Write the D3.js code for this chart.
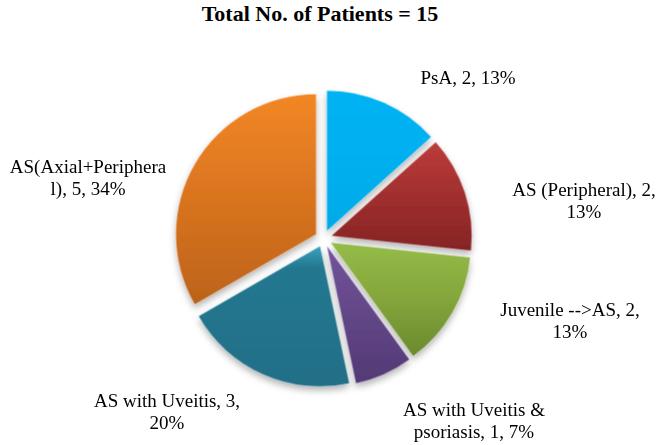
<!DOCTYPE html>
<html>
<head>
<meta charset="utf-8">
<script src="https://cdn.jsdelivr.net/npm/d3@7"></script>
<style>
  body { margin: 0; background: #fff; }
  svg { display: block; }
  text { font-family: "Liberation Serif", "Times New Roman", serif; fill: #000; }
</style>
</head>
<body>
<div id="chart"></div>
<script>
// Data
const categories = ['PsA', 'AS (Peripheral)', 'Juvenile -->AS', 'AS with Uveitis & psoriasis', 'AS with Uveitis', 'AS(Axial+Peripheral)'];
const counts = [2, 2, 2, 1, 3, 5];
const percents = [13, 13, 13, 7, 20, 34];
const title = 'Total No. of Patients = 15';

// Styles: gradient top/bottom per slice
const gradTop = ['#02b3f2', '#bb3d3a', '#95bc48', '#72549c', '#3aa3c1', '#f28724'];
const gradMid = ['#00b0f0', '#a43030', '#86a83d', '#654889', '#24788f', '#dc7620'];
const gradBottom = ['#00aae8', '#862424', '#6a8a2e', '#523a75', '#216f88', '#bc6319'];

// Label placement (offset of label centre from pie centre)
const labelOffsets = [[144.5, -161], [260.5, -38], [246.5, 82], [150.5, 182], [-156.5, 173], [-235.5, -61]];

const width = 659, height = 445;
const cx = 323.5, cy = 238.5, radius = 140, explode = 8.6;
const fontSize = 19, lineHeight = 22, wrapWidth = 159;

const svg = d3.select('#chart').append('svg')
    .attr('width', width)
    .attr('height', height);

const defs = svg.append('defs');

const shadow = defs.append('filter')
    .attr('id', 'shadow')
    .attr('x', '-20%').attr('y', '-20%')
    .attr('width', '140%').attr('height', '140%');
shadow.append('feDropShadow')
    .attr('dx', 0).attr('dy', 4)
    .attr('stdDeviation', 3.5)
    .attr('flood-color', '#000')
    .attr('flood-opacity', 0.3);

categories.forEach((c, i) => {
    const g = defs.append('linearGradient')
        .attr('id', 'grad' + i)
        .attr('x1', 0).attr('y1', 0).attr('x2', 0).attr('y2', 1);
    g.append('stop').attr('offset', '0%').attr('stop-color', gradTop[i]);
    g.append('stop').attr('offset', i === 4 ? '15%' : '45%').attr('stop-color', gradMid[i]);
    g.append('stop').attr('offset', '100%').attr('stop-color', gradBottom[i]);
});

svg.append('text')
    .attr('x', 320)
    .attr('y', 21)
    .attr('text-anchor', 'middle')
    .style('font-size', '22px')
    .style('font-weight', 'bold')
    .text(title);

const pie = d3.pie().sort(null).value(d => d.count);
const data = categories.map((c, i) => ({name: c, count: counts[i], pct: percents[i]}));
const arcs = pie(data);

const arc = d3.arc().innerRadius(0).outerRadius(radius);

const pieG = svg.append('g')
    .attr('transform', `translate(${cx},${cy})`)
    .attr('filter', 'url(#shadow)');

pieG.selectAll('path')
    .data(arcs)
    .join('path')
    .attr('d', arc)
    .attr('fill', (d, i) => `url(#grad${i})`)
    .attr('transform', d => {
        const a = (d.startAngle + d.endAngle) / 2;
        return `translate(${Math.sin(a) * explode},${-Math.cos(a) * explode})`;
    });

// word wrap, breaking over-long words by character like Excel
const measure = svg.append('text').style('font-size', fontSize + 'px').attr('visibility', 'hidden');
function textWidth(s) {
    measure.text(s);
    return measure.node().getComputedTextLength();
}
function wrap(str) {
    const words = str.split(' ');
    const lines = [];
    let line = '';
    words.forEach(w => {
        const test = line ? line + ' ' + w : w;
        if (textWidth(test) <= wrapWidth) { line = test; return; }
        if (line) { lines.push(line); line = ''; }
        let rest = w;
        while (textWidth(rest) > wrapWidth) {
            let k = rest.length;
            while (k > 1 && textWidth(rest.slice(0, k)) > wrapWidth) k--;
            lines.push(rest.slice(0, k));
            rest = rest.slice(k);
        }
        line = rest;
    });
    if (line) lines.push(line);
    return lines;
}

const labels = svg.append('g').attr('transform', `translate(${cx},${cy})`);

arcs.forEach((d, i) => {
    const lines = wrap(`${d.data.name}, ${d.data.count}, ${d.data.pct}%`);
    const t = labels.append('text')
        .attr('text-anchor', 'middle')
        .style('font-size', fontSize + 'px');
    const y0 = labelOffsets[i][1] - (lines.length - 1) * lineHeight / 2 + fontSize * 0.35;
    lines.forEach((l, j) => {
        t.append('tspan')
            .attr('x', labelOffsets[i][0])
            .attr('y', y0 + j * lineHeight)
            .text(l);
    });
});
measure.remove();
</script>
</body>
</html>
